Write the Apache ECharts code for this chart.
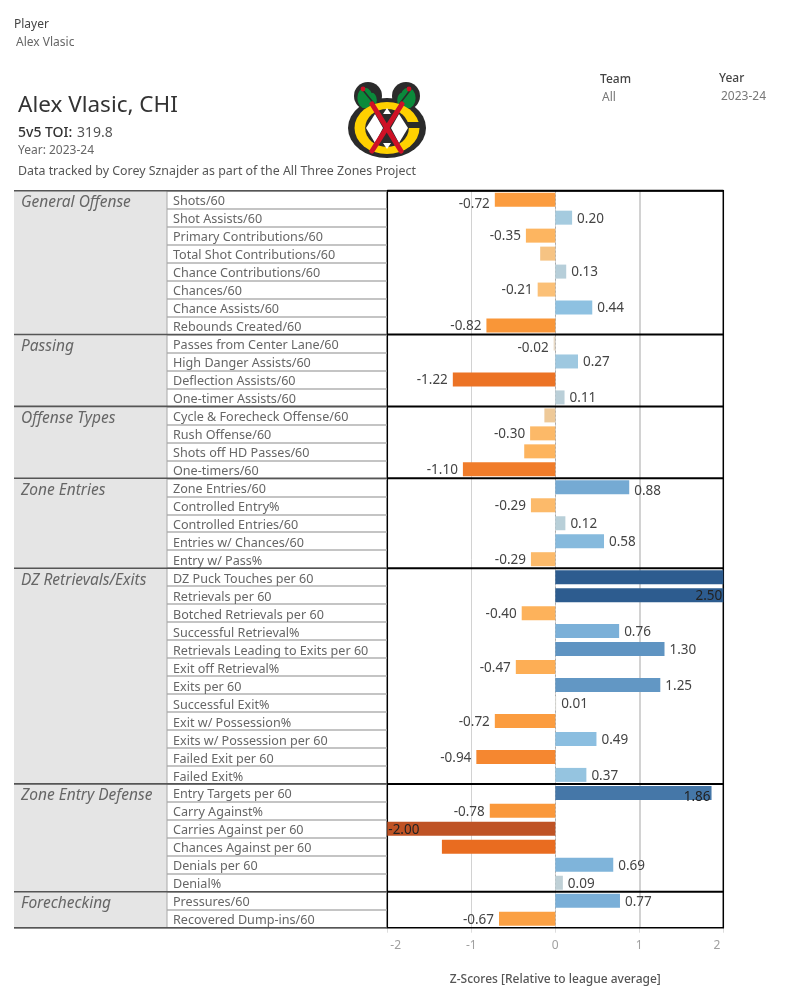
<!DOCTYPE html>
<html><head><meta charset="utf-8">
<style>html,body{margin:0;padding:0;background:#fff}#c{width:794px;height:1005px}</style>
<script src="https://cdn.jsdelivr.net/npm/echarts@6/dist/echarts.min.js"></script>
</head><body><div id="c"></div>
<script>
const groupNames = ['General Offense','Passing','Offense Types','Zone Entries','DZ Retrievals/Exits','Zone Entry Defense','Forechecking'];
const groupSizes = [8,4,4,5,12,6,2];
const metrics = ['Shots/60','Shot Assists/60','Primary Contributions/60','Total Shot Contributions/60','Chance Contributions/60','Chances/60','Chance Assists/60','Rebounds Created/60',
 'Passes from Center Lane/60','High Danger Assists/60','Deflection Assists/60','One-timer Assists/60',
 'Cycle & Forecheck Offense/60','Rush Offense/60','Shots off HD Passes/60','One-timers/60',
 'Zone Entries/60','Controlled Entry%','Controlled Entries/60','Entries w/ Chances/60','Entry w/ Pass%',
 'DZ Puck Touches per 60','Retrievals per 60','Botched Retrievals per 60','Successful Retrieval%','Retrievals Leading to Exits per 60','Exit off Retrieval%','Exits per 60','Successful Exit%','Exit w/ Possession%','Exits w/ Possession per 60','Failed Exit per 60','Failed Exit%',
 'Entry Targets per 60','Carry Against%','Carries Against per 60','Chances Against per 60','Denials per 60','Denial%',
 'Pressures/60','Recovered Dump-ins/60'];
const zScores = [-0.72,0.20,-0.35,-0.18,0.13,-0.21,0.44,-0.82,
 -0.02,0.27,-1.22,0.11,
 -0.13,-0.30,-0.37,-1.10,
 0.88,-0.29,0.12,0.58,-0.29,
 2.62,2.50,-0.40,0.76,1.30,-0.47,1.25,0.01,-0.72,0.49,-0.94,0.37,
 1.86,-0.78,-2.00,-1.35,0.69,0.09,
 0.77,-0.67];
const unlabeled = ['Total Shot Contributions/60','Cycle & Forecheck Offense/60','Shots off HD Passes/60','DZ Puck Touches per 60','Chances Against per 60'];
const insideLabeled = ['Retrievals per 60','Entry Targets per 60','Carries Against per 60'];
const labelNudgeY = {'Shots/60':3,'Passes from Center Lane/60':4,'Zone Entries/60':3,'Entry Targets per 60':3};
const xTicks = [-2,-1,0,1,2];
const colorStopValues = [-2,-1.35,-1.22,-0.94,-0.82,-0.72,-0.47,-0.35,-0.21,-0.13,-0.02,0.01,0.09,0.2,0.44,0.76,1.3,1.86,2.5];
const colorStops = ['#BF5325','#E96C20','#EC7325','#F58730','#F99638','#FB9C3F','#FDAE55','#FDB560','#FBC077','#EEC998','#E8D9C5','#DDDDD8','#BFD0D6','#A5CBDF','#8EC1E1','#7BB0D8','#5F94C2','#4577A8','#2D5C8F'];

const FONT = '"Noto Sans", sans-serif';
function hex(c){return [1,3,5].map(i=>parseInt(c.substr(i,2),16));}
function colorFor(v){
  if(v<=colorStopValues[0]) return colorStops[0];
  for(let i=1;i<colorStopValues.length;i++){
    if(v<=colorStopValues[i]){
      const t=(v-colorStopValues[i-1])/(colorStopValues[i]-colorStopValues[i-1]);
      const a=hex(colorStops[i-1]),b=hex(colorStops[i]);
      return 'rgb('+a.map((x,k)=>Math.round(x+(b[k]-x)*t)).join(',')+')';
    }
  }
  return colorStops[colorStops.length-1];
}
const spans=[];let r=0;
groupNames.forEach((n,i)=>{spans.push([r,r+groupSizes[i]-1,n]);r+=groupSizes[i];});

const TABLE_W=373, PANEL_W=153;
function t(text,left,top,size,color,weight){
  return {text,left,top,textStyle:{fontFamily:FONT,fontSize:size,color,fontWeight:weight||'normal'},padding:0};
}
function logo(){
  const dark='#2b2b2b',yellow='#FFD100',red='#CE1126',green='#0B8A3B';
  const el=[];
  const circ=(cx,cy,rr,fill,sx,sy)=>el.push({type:'circle',x:cx,y:cy,scaleX:sx||1,scaleY:sy||1,shape:{cx:0,cy:0,r:rr},style:{fill}});
  const line=(a,b,c,d,stroke,w)=>el.push({type:'line',shape:{x1:a,y1:b,x2:c,y2:d},style:{stroke,lineWidth:w,lineCap:'round'}});
  circ(387,128,30,dark,1.3,1);
  circ(368,96,14,dark);circ(406,96,14,dark);
  circ(365,98,9,green,0.85,1.15);circ(372,100,6,green,0.8,1.2);
  circ(408,98,9,green,0.85,1.15);circ(402,100,6,green,0.8,1.2);
  line(362,89,376,106,dark,1.6);line(411,89,398,106,dark,1.6);
  circ(363,89,2.4,red);circ(409,89,2.4,red);
  circ(387,128,26,yellow,1.25,1);
  el.push({type:'rect',shape:{x:406,y:122,width:17,height:6},style:{fill:dark}});
  circ(387,128,19,dark,1.15,1);
  el.push({type:'polygon',shape:{points:[[366,128],[375,114],[383,128],[375,143]]},style:{fill:'#fff'}});
  el.push({type:'polygon',shape:{points:[[391,128],[399,114],[408,128],[399,143]]},style:{fill:'#fff'}});
  el.push({type:'polygon',shape:{points:[[383,114],[391,114],[387,108]]},style:{fill:'#fff'}});
  el.push({type:'polygon',shape:{points:[[383,143],[391,143],[387,149]]},style:{fill:'#fff'}});
  line(372,104,401,151,red,5);line(402,104,372,151,red,5);
  return el;
}
const chart=echarts.init(document.getElementById('c'),null,{renderer:'canvas'});
chart.setOption({
  animation:false,
  backgroundColor:'#fff',
  textStyle:{fontFamily:FONT},
  title:[
    t('Player',14,19,12,'#444'),
    t('Alex Vlasic',16,37,12,'#666'),
    t('Team',600,74,12,'#444',500),
    t('All',602,92,12,'#777'),
    t('Year',719,73,12,'#444',500),
    t('2023-24',721,91,12,'#777'),
    t('Alex Vlasic, CHI',18,94,22.5,'#333'),
    {text:'{a|5v5 TOI:} {b|319.8}',left:18,top:124,padding:0,textStyle:{fontFamily:FONT,fontWeight:'normal',rich:{a:{fontFamily:FONT,fontSize:14,color:'#333',fontWeight:500},b:{fontFamily:FONT,fontSize:14,color:'#555',fontWeight:'normal'}}}},
    t('Year: 2023-24',18,145,12,'#666'),
    t('Data tracked by Corey Sznajder as part of the All Three Zones Project',18,165,12.4,'#555')
  ],
  graphic:logo(),
  grid:[
    {left:14,top:190.7,width:TABLE_W,height:737,outerBoundsMode:'none'},
    {left:387.3,top:190.7,width:336,height:737,outerBoundsMode:'none',show:true,borderColor:'#000',borderWidth:1.5,backgroundColor:'transparent',z:3}
  ],
  xAxis:[
    {gridIndex:0,type:'value',min:0,max:TABLE_W,show:false},
    {gridIndex:1,type:'value',min:-2,max:2,interval:1,position:'bottom',
     axisLine:{show:false},axisTick:{show:true,length:5,lineStyle:{color:'#ddd'}},
     splitLine:{show:true,lineStyle:{color:'#d2d2d2',width:1}},
     axisLabel:{show:true,color:'#a0a0a0',fontSize:12,margin:12,fontFamily:FONT,alignMinLabel:'left',alignMaxLabel:'right',customValues:xTicks,
       formatter:v=>v===-2?'{l|-2}':v===2?'{r|2}':String(v),
       rich:{l:{padding:[0,0,0,3],color:'#a0a0a0',fontSize:12},r:{padding:[0,3,0,0],color:'#a0a0a0',fontSize:12}}},
     name:'Z-Scores [Relative to league average]',nameLocation:'middle',nameGap:46,
     nameTextStyle:{color:'#555',fontSize:12,fontFamily:FONT,fontWeight:500}}
  ],
  yAxis:[
    {gridIndex:0,type:'category',inverse:true,data:metrics,position:'left',
     axisLine:{show:false},axisTick:{show:false},
     splitLine:{show:true,interval:0,lineStyle:{color:'#b0b0b0',width:1.5}},
     z:5,
     axisLabel:{inside:true,interval:0,align:'left',margin:159,verticalAlign:'top',lineHeight:4,color:'#666',fontSize:12.6,fontFamily:FONT}},
    {gridIndex:1,type:'category',inverse:true,data:metrics,
     axisLine:{show:false},axisTick:{show:false},axisLabel:{show:false},splitLine:{show:false}}
  ],
  series:[
    {type:'custom',xAxisIndex:0,yAxisIndex:0,clip:false,z:7,
     data:spans,encode:{x:-1,y:0},
     renderItem(params,api){
       const s=spans[params.dataIndex];
       const h=api.size([0,1])[1];
       const tl=api.coord([0,s[0]]), br=api.coord([PANEL_W,s[1]]);
       const endX=api.coord([TABLE_W,0])[0];
       const y0=tl[1]-h/2, y1=br[1]+h/2, x0=tl[0], x1=br[0];
       const kids=[
         {type:'rect',shape:{x:x0,y:y0,width:x1-x0,height:y1-y0},style:{fill:'#E5E5E5'}},
         {type:'line',shape:{x1:x1,y1:y0,x2:x1,y2:y1},style:{stroke:'#a8a8a8',lineWidth:1}},
         {type:'line',shape:{x1:x0,y1:y0,x2:endX,y2:y0},style:{stroke:'#555',lineWidth:1.6}},
         {type:'text',style:{x:x0+7,y:y0+12,text:s[2],fill:'#666',font:'italic 15.5px '+FONT,verticalAlign:'middle',textAlign:'left'}}
       ];
       if(params.dataIndex===spans.length-1) kids.push({type:'line',shape:{x1:x0,y1:y1,x2:endX,y2:y1},style:{stroke:'#555',lineWidth:1.6}});
       return {type:'group',children:kids};
     }},
    {type:'custom',xAxisIndex:1,yAxisIndex:1,clip:false,z:5,
     data:spans,encode:{x:-1,y:0},
     renderItem(params,api){
       const s=spans[params.dataIndex];
       const h=api.size([0,1])[1];
       const a=api.coord([-2,s[0]]), b=api.coord([2,s[0]]);
       return {type:'line',shape:{x1:a[0],y1:a[1]-h/2,x2:b[0],y2:a[1]-h/2},style:{stroke:'#000',lineWidth:2}};
     }},
    {type:'bar',xAxisIndex:1,yAxisIndex:1,barWidth:14,z:4,clip:true,
     data:zScores.map((v,i)=>{
       const inside=insideLabeled.includes(metrics[i]);
       return {value:v,itemStyle:{color:colorFor(v)},
         label:{show:!unlabeled.includes(metrics[i]),
           position: inside?(v<0?'insideLeft':'insideRight'):(v<0?'left':'right'),
           distance: inside?1:5, offset:[0,1+(labelNudgeY[metrics[i]]||0)],
           formatter:v.toFixed(2),color:inside?'#222':'#444',fontSize:13.5,fontFamily:FONT}};
     }),
     markLine:{silent:true,symbol:'none',z:1,label:{show:false},lineStyle:{color:'#d2d2d2',width:2,type:'solid'},
       data:[{xAxis:1},{xAxis:0,lineStyle:{color:'#aaa',width:1,type:[2,2]}}]}}
  ]
});
</script></body></html>
